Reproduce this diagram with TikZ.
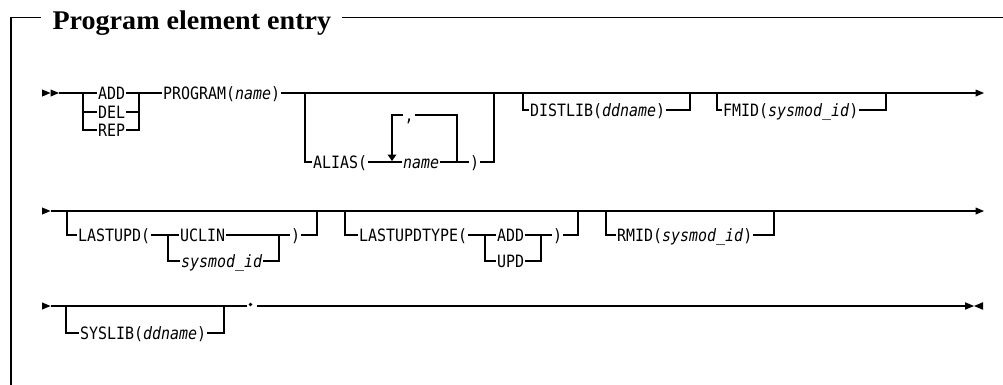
\documentclass[tikz,border=0pt]{standalone}
\usepackage{fontspec}
\newfontfamily\sy[FakeStretch=0.88]{DejaVu Sans Mono}
\newfontfamily\ttl[FakeStretch=1.04]{Liberation Serif}
\begin{document}
\begin{tikzpicture}[x=1pt,y=-1pt,line width=1.1pt,
  kw/.style={font=\sy\fontsize{17}{17}\selectfont,inner xsep=0.5pt,inner ysep=0pt,
             text height=12.4pt,text depth=0pt,anchor=west},
  frame/.style={line width=1.4pt},
  tipr/.style={fill=black,draw=none},
]
\useasboundingbox (0,0) rectangle (1003,384);
% frame and title
\coordinate (fb) at (11,385);
\coordinate (fc) at (11,17.3);
\coordinate (fl) at (40.5,17.3);
\coordinate (fr1) at (342,17.3);
\coordinate (fr2) at (1003,17.3);
\node[font=\ttl\bfseries\fontsize{27}{27}\selectfont,inner sep=0pt,anchor=base west] (title) at (52,29) {Program element entry};
\draw[frame] (fb) -- (fc) -- (fl);
\draw[frame] (fr1) -- (fr2);

% ---------------- row 1 ----------------
\coordinate (s1) at (42,93);
\coordinate (s1b) at (50.5,93);
\coordinate (s1e) at (59,93);
\fill[tipr,shift={(s1)}] (0,-3.6) -- (8.5,0) -- (0,3.6) -- cycle;
\fill[tipr,shift={(s1b)}] (0,-3.6) -- (8.5,0) -- (0,3.6) -- cycle;
\coordinate (b1) at (83,93);
\coordinate (b1d) at (83,112);
\coordinate (b1r) at (83,130);
\coordinate (j1) at (139,93);
\coordinate (j1d) at (139,112);
\coordinate (j1r) at (139,130);
\node[kw] (add1) at (97,93) {ADD};
\node[kw] (del1) at (97,112) {DEL};
\node[kw] (rep1) at (97,130) {REP};
\node[kw] (prog) at (162,93) {PROGRAM(\textit{name})};
\coordinate (e1) at (975.5,93);
\draw (s1e) -- (add1.west);
\draw (b1) -- (b1r) -- (rep1.west);
\draw (b1d) -- (del1.west);
\draw (add1.east) -- (j1) -- (prog.west);
\draw (del1.east) -- (j1d);
\draw (rep1.east) -- (j1r) -- (j1);
\draw (prog.east) -- (e1);
\fill[tipr,shift={(e1)}] (0,-3.6) -- (8.5,0) -- (0,3.6) -- cycle;
% ALIAS
\coordinate (a1) at (305,93);
\coordinate (a1d) at (305,162);
\coordinate (a2) at (494,93);
\coordinate (a2d) at (494,162);
\node[kw] (alias) at (312,162) {ALIAS(};
\node[kw] (aname) at (402,162) {\textit{name}};
\node[kw] (arp) at (469,162) {)};
\coordinate (lpl) at (392,162);
\coordinate (lplt) at (392,115);
\coordinate (lpr) at (457,162);
\coordinate (lprt) at (457,115);
\coordinate (lc1) at (403,115);
\coordinate (lc2) at (414.5,115);
\node[font=\sy\fontsize{17}{17}\selectfont,inner sep=0pt,anchor=base] (comma) at (409,121) {,};
\draw (a1) -- (a1d) -- (alias.west);
\draw (alias.east) -- (aname.west);
\draw (aname.east) -- (arp.west);
\draw (arp.east) -- (a2d) -- (a2);
\draw (lpr) -- (lprt) -- (lc2);
\draw (lc1) -- (lplt) -- (392,155);
\fill[tipr] (387.5,154.5) -- (396.5,154.5) -- (392,161) -- cycle;
% DISTLIB
\coordinate (d1) at (523,93);
\coordinate (d1d) at (523,110);
\coordinate (d2) at (690,93);
\coordinate (d2d) at (690,110);
\node[kw] (distlib) at (529,110) {DISTLIB(\textit{ddname})};
\draw (d1) -- (d1d) -- (distlib.west);
\draw (distlib.east) -- (d2d) -- (d2);
% FMID
\coordinate (f1) at (717,93);
\coordinate (f1d) at (717,110);
\coordinate (f2) at (886,93);
\coordinate (f2d) at (886,110);
\node[kw] (fmid) at (722,110) {FMID(\textit{sysmod\_id})};
\draw (f1) -- (f1d) -- (fmid.west);
\draw (fmid.east) -- (f2d) -- (f2);

% ---------------- row 2 ----------------
\coordinate (s2) at (42,211);
\coordinate (s2e) at (50.5,211);
\coordinate (e2) at (975.5,211);
\fill[tipr,shift={(s2)}] (0,-3.6) -- (8.5,0) -- (0,3.6) -- cycle;
\draw (s2e) -- (e2);
\fill[tipr,shift={(e2)}] (0,-3.6) -- (8.5,0) -- (0,3.6) -- cycle;
% LASTUPD
\coordinate (l1) at (67,211);
\coordinate (l1d) at (67,235);
\coordinate (l2) at (317,211);
\coordinate (l2d) at (317,235);
\coordinate (li1) at (168,235);
\coordinate (li1d) at (168,261);
\coordinate (li2) at (279,235);
\coordinate (li2d) at (279,261);
\node[kw] (lastupd) at (77,235) {LASTUPD(};
\node[kw] (uclin) at (179,235) {UCLIN};
\node[kw] (sysid) at (180,261) {\textit{sysmod\_id}};
\node[kw] (lrp) at (290,235) {)};
\draw (l1) -- (l1d) -- (lastupd.west);
\draw (lastupd.east) -- (uclin.west);
\draw (li1) -- (li1d) -- (sysid.west);
\draw (uclin.east) -- (lrp.west);
\draw (sysid.east) -- (li2d) -- (li2);
\draw (lrp.east) -- (l2d) -- (l2);
% LASTUPDTYPE
\coordinate (t1) at (345,211);
\coordinate (t1d) at (345,235);
\coordinate (t2) at (578,211);
\coordinate (t2d) at (578,235);
\coordinate (ti1) at (485,235);
\coordinate (ti1d) at (485,261);
\coordinate (ti2) at (541,235);
\coordinate (ti2d) at (541,261);
\node[kw] (lut) at (358,235) {LASTUPDTYPE(};
\node[kw] (ladd) at (496,235) {ADD};
\node[kw] (lupd) at (496,261) {UPD};
\node[kw] (lutrp) at (552,235) {)};
\draw (t1) -- (t1d) -- (lut.west);
\draw (lut.east) -- (ladd.west);
\draw (ti1) -- (ti1d) -- (lupd.west);
\draw (ladd.east) -- (lutrp.west);
\draw (lupd.east) -- (ti2d) -- (ti2);
\draw (lutrp.east) -- (t2d) -- (t2);
% RMID
\coordinate (r1) at (606,211);
\coordinate (r1d) at (606,235);
\coordinate (r2) at (774,211);
\coordinate (r2d) at (774,235);
\node[kw] (rmid) at (616,235) {RMID(\textit{sysmod\_id})};
\draw (r1) -- (r1d) -- (rmid.west);
\draw (rmid.east) -- (r2d) -- (r2);

% ---------------- row 3 ----------------
\coordinate (s3) at (42,306);
\coordinate (s3e) at (50.5,306);
\fill[tipr,shift={(s3)}] (0,-3.6) -- (8.5,0) -- (0,3.6) -- cycle;
\coordinate (y1) at (66,306);
\coordinate (y1d) at (66,333);
\coordinate (y2) at (224,306);
\coordinate (y2d) at (224,333);
\node[kw] (syslib) at (79,333) {SYSLIB(\textit{ddname})};
\coordinate (dotl) at (247,306);
\coordinate (dot) at (250.5,304.5);
\coordinate (thk1) at (257,306);
\coordinate (thk2) at (275,306);
\coordinate (e3) at (965,306);
\coordinate (e3m) at (974,306);
\coordinate (e3r) at (983,306);
\draw (s3e) -- (dotl);
\draw (y1) -- (y1d) -- (syslib.west);
\draw (syslib.east) -- (y2d) -- (y2);
\fill (dot) circle (1.8);
\draw[line width=2.4pt] (thk1) -- (thk2);
\draw (thk2) -- (e3);
\fill[tipr] (e3) ++(0,-3.8) -- (e3m) -- (965,309.8) -- cycle;
\fill[tipr] (e3r) ++(0,-3.8) -- (e3m) -- (983,309.8) -- cycle;
\end{tikzpicture}
\end{document}
